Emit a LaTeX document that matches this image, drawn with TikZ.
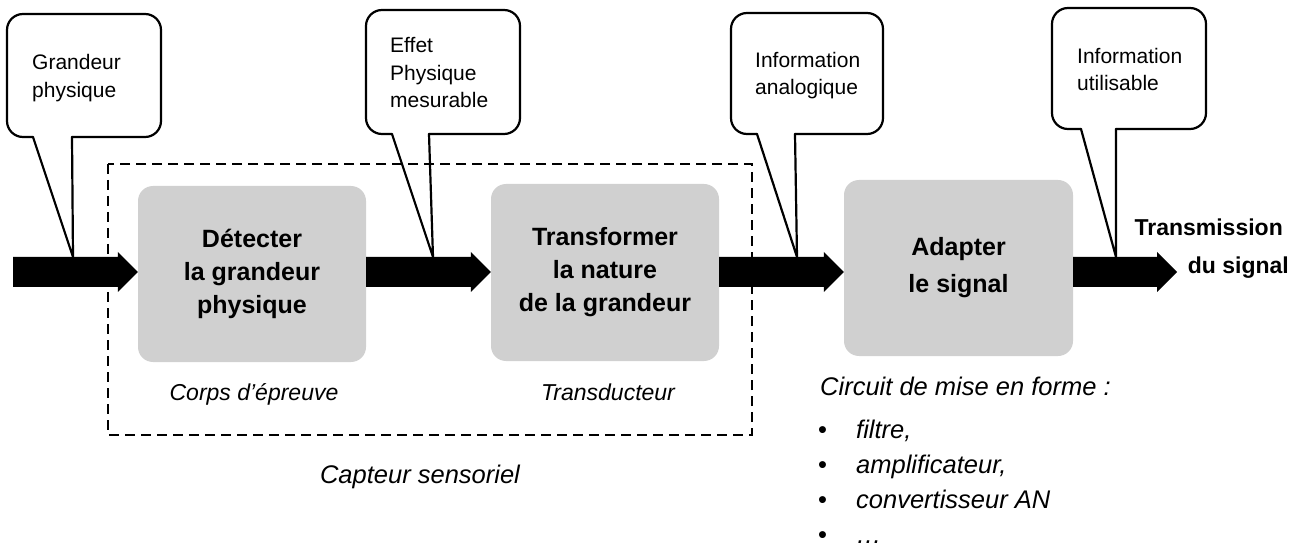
\documentclass[tikz,border=0pt]{standalone}
\usepackage{fontspec}
\setmainfont{Liberation Sans}
\usetikzlibrary{calc}
\definecolor{stagegray}{RGB}{208,208,208}

% fat black arrow between two points on the same horizontal line
\newcommand{\blockarrow}[2]{%
  \fill let \p1=(#1), \p2=(#2) in
    (\x1,\y1-15) -- (\x2-20,\y1-15) -- (\x2-20,\y1-20) -- (\x2,\y1)
    -- (\x2-20,\y1+20) -- (\x2-20,\y1+15) -- (\x1,\y1+15) -- cycle;}

\begin{document}
\begin{tikzpicture}[x=1pt,y=-1pt,
  stage/.style={fill=stagegray, rounded corners=15pt, align=center,
    inner sep=0pt, font=\fontsize{25}{33}\selectfont\bfseries},
  bubble/.style={line width=2.2pt, line cap=round, line join=round},
  bubbletext/.style={align=left, anchor=base west, inner sep=0pt,
    font=\fontsize{21}{27.5}\selectfont},
  note/.style={inner sep=0pt, anchor=base, font=\fontsize{23}{28}\selectfont\itshape},
  bignote/.style={inner sep=0pt, font=\fontsize{25.5}{35}\selectfont\itshape},
  frame/.style={line width=2.4pt, dash pattern=on 10pt off 6pt},
]
\fill[white] (0,0) rectangle (1298,545);
\useasboundingbox (0,0) rectangle (1298,545);

% sensor frame
\draw[frame] (108,164) rectangle (752,435);

% processing stages
\node[stage, minimum width=228pt, minimum height=176pt] (b1) at (252,274)
  {Détecter\\la grandeur\\physique};
\node[stage, minimum width=228pt, minimum height=177pt] (b2) at (605,272.5)
  {Transformer\\la nature\\de la grandeur};
\node[stage, minimum width=229pt, minimum height=176pt,
  font=\fontsize{25}{37}\selectfont\bfseries] (b3) at (958.5,268)
  {Adapter\\le signal};

% signal flow
\coordinate (in) at (13,272);
\coordinate (out) at (1177,272);
\blockarrow{in}{in -| b1.west}
\blockarrow{in -| b1.east}{in -| b2.west}
\blockarrow{in -| b2.east}{in -| b3.west}
\blockarrow{in -| b3.east}{out}

% callouts
\draw[bubble] (33,137) [rounded corners=16pt] -- (7,137) -- (7,14) -- (161,14) -- (161,137) -- (72,137);
\draw[bubble] (33,137) -- (73,257) -- (72,137);
\node[bubbletext] (t1) at (32,97.5) {Grandeur\\physique};

\draw[bubble] (392,134) [rounded corners=16pt] -- (366,134) -- (366,10) -- (520,10) -- (520,134) -- (429,134);
\draw[bubble] (392,134) -- (433,257) -- (429,134);
\node[bubbletext] (t2) at (390,108) {Effet\\Physique\\mesurable};

\draw[bubble] (757,134) [rounded corners=16pt] -- (731,134) -- (731,13) -- (883,13) -- (883,134) -- (795,134);
\draw[bubble] (757,134) -- (797,257) -- (795,134);
\node[bubbletext] (t3) at (755,95) {Information\\analogique};

\draw[bubble] (1081,129) [rounded corners=16pt] -- (1052,129) -- (1052,8) -- (1206,8) -- (1206,129) -- (1116,129);
\draw[bubble] (1081,129) -- (1116,257) -- (1116,129);
\node[bubbletext] (t4) at (1077,91) {Information\\utilisable};

% labels
\node[inner sep=0pt, anchor=base east, align=right,
  font=\fontsize{23}{38}\selectfont\bfseries] (tx) at (1289,273)
  {Transmission\hspace*{6pt}\\du signal};
\node[note] (corps) at (254,400) {Corps d’épreuve};
\node[note] (trans) at (608,400) {Transducteur};
\node[bignote, anchor=base] (capteur) at (420,483) {Capteur sensoriel};
\node[bignote, anchor=base west] (circuit) at (820,395) {Circuit de mise en forme :};
\node[bignote, anchor=base west, align=left] (list) at (818,543)
  {\makebox[38pt][l]{\upshape •}filtre,\\
   \makebox[38pt][l]{\upshape •}amplificateur,\\
   \makebox[38pt][l]{\upshape •}convertisseur AN\\
   \makebox[38pt][l]{\upshape •}…};
\end{tikzpicture}
\end{document}
